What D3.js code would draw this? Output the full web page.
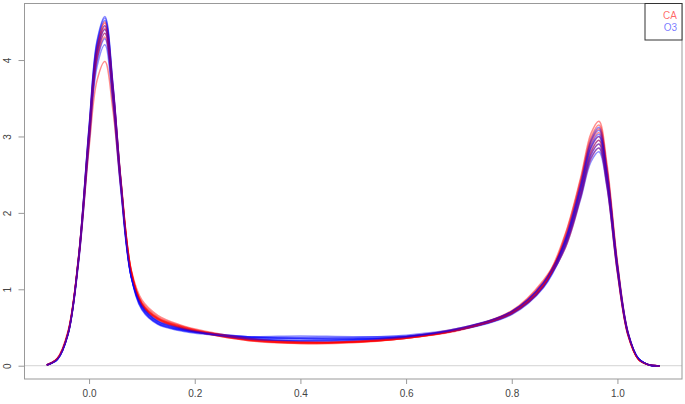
<!DOCTYPE html>
<html>
<head>
<meta charset="utf-8">
<script src="https://cdn.jsdelivr.net/npm/d3@7/dist/d3.min.js"></script>
<style>
  body { margin: 0; background: #fff; }
  svg { display: block; font-family: "Liberation Sans", Arial, sans-serif; }
</style>
</head>
<body>
<div id="chart"></div>
<script>
// shared x grid for every density curve
var xGrid = [-0.08,-0.06,-0.04,-0.02,0,0.015,0.03,0.045,0.06,0.08,0.10,0.13,0.17,0.22,0.3,0.4,0.5,0.6,0.7,0.8,0.86,0.9,0.93,0.95,0.965,0.98,1.0,1.02,1.04,1.06,1.08];

// CA densities (red)
var caCurves = [
  [0.01,0.09,0.43,1.42,3.08,4.18,4.50,3.67,2.46,1.24, 0.82,0.63,0.52,0.43,0.34,0.30,0.31,0.36,0.47,0.70,1.08, 1.70,2.45,3.04,3.20,2.65,1.36,0.44,0.09,0.01,0],
  [0.01,0.09,0.43,1.41,3.05,4.14,4.45,3.63,2.43,1.23, 0.80,0.62,0.51,0.42,0.33,0.29,0.31,0.37,0.48,0.71,1.09, 1.63,2.34,2.90,3.05,2.52,1.29,0.42,0.08,0.01,0],
  [0.01,0.09,0.42,1.39,3.02,4.09,4.40,3.59,2.41,1.21, 0.81,0.61,0.50,0.42,0.34,0.30,0.32,0.37,0.47,0.69,1.06, 1.57,2.26,2.80,2.95,2.44,1.25,0.40,0.08,0.01,0],
  [0.01,0.09,0.41,1.36,2.95,4.00,4.30,3.51,2.35,1.19, 0.83,0.64,0.53,0.44,0.35,0.31,0.31,0.36,0.46,0.69,1.05, 1.65,2.38,2.94,3.10,2.56,1.31,0.42,0.08,0.01,0],
  [0.01,0.09,0.43,1.42,3.07,4.16,4.48,3.65,2.45,1.23, 0.80,0.61,0.51,0.43,0.34,0.29,0.30,0.36,0.47,0.71,1.10, 1.55,2.22,2.76,2.90,2.40,1.23,0.40,0.08,0.01,0],
  [0.01,0.10,0.45,1.38,2.85,3.73,3.98,3.35,2.35,1.25, 0.86,0.66,0.54,0.45,0.36,0.31,0.31,0.36,0.47,0.72,1.12, 1.60,2.30,2.85,3.00,2.48,1.27,0.41,0.08,0.01,0],
  [0.01,0.09,0.42,1.38,2.98,4.04,4.35,3.55,2.38,1.20, 0.79,0.60,0.50,0.42,0.33,0.30,0.32,0.38,0.49,0.70,1.06, 1.52,2.19,2.71,2.85,2.36,1.21,0.39,0.08,0.01,0],
  [0.01,0.09,0.42,1.40,3.03,4.11,4.42,3.61,2.42,1.22, 0.81,0.62,0.52,0.44,0.35,0.31,0.31,0.36,0.47,0.68,1.04, 1.68,2.42,2.99,3.15,2.60,1.33,0.43,0.08,0.01,0]
];

// O3 densities (blue)
var o3Curves = [
  [0.01,0.08,0.40,1.40,3.13,4.25,4.57,3.70,2.44,1.16, 0.74,0.55,0.47,0.42,0.37,0.35,0.35,0.38,0.48,0.69,1.05, 1.58,2.27,2.80,2.95,2.45,1.28,0.42,0.09,0.01,0],
  [0.01,0.08,0.41,1.40,3.10,4.20,4.52,3.66,2.42,1.17, 0.76,0.56,0.48,0.43,0.38,0.36,0.35,0.38,0.47,0.68,1.04, 1.62,2.36,2.93,3.08,2.55,1.31,0.43,0.09,0.01,0],
  [0.01,0.09,0.42,1.38,2.98,4.04,4.35,3.54,2.36,1.17, 0.78,0.58,0.49,0.43,0.36,0.33,0.34,0.38,0.48,0.70,1.07, 1.52,2.17,2.67,2.80,2.34,1.22,0.41,0.09,0.01,0],
  [0.01,0.09,0.41,1.34,2.89,3.91,4.20,3.43,2.30,1.15, 0.77,0.57,0.48,0.43,0.38,0.37,0.37,0.40,0.49,0.69,1.04, 1.64,2.38,2.96,3.12,2.58,1.33,0.44,0.09,0.01,0],
  [0.01,0.08,0.41,1.39,3.05,4.14,4.45,3.61,2.40,1.16, 0.73,0.54,0.46,0.41,0.37,0.36,0.36,0.38,0.47,0.68,1.03, 1.56,2.23,2.76,2.90,2.41,1.26,0.42,0.09,0.01,0],
  [0.01,0.09,0.41,1.36,2.94,3.98,4.28,3.49,2.33,1.16, 0.79,0.59,0.50,0.43,0.36,0.32,0.33,0.37,0.48,0.71,1.08, 1.60,2.30,2.85,3.00,2.49,1.29,0.42,0.09,0.01,0],
  [0.01,0.08,0.41,1.41,3.12,4.23,4.55,3.69,2.43,1.16, 0.75,0.55,0.47,0.42,0.38,0.39,0.38,0.39,0.47,0.67,1.02, 1.54,2.20,2.72,2.85,2.37,1.24,0.41,0.09,0.01,0],
  [0.01,0.08,0.42,1.39,3.02,4.09,4.40,3.58,2.38,1.16, 0.78,0.58,0.49,0.42,0.35,0.33,0.34,0.38,0.49,0.71,1.09, 1.61,2.32,2.88,3.03,2.51,1.30,0.43,0.09,0.01,0]
];

var xTicks = [0, 0.2, 0.4, 0.6, 0.8, 1.0];
var yTicks = [0, 1, 2, 3, 4];
var legendLabels = ["CA", "O3"];
var legendColors = ["rgba(255,0,0,0.6)", "rgba(0,0,255,0.55)"];

var width = 685, height = 404;
var box = {left: 24.5, right: 682, top: 3.5, bottom: 379};

var svg = d3.select('#chart').append('svg')
    .attr('width', width)
    .attr('height', height);

var xScale = d3.scaleLinear()
    .domain([-0.1222, 1.1222])
    .range([box.left, box.right]);

var yScale = d3.scaleLinear()
    .domain([-0.174, 4.74])
    .range([box.bottom, box.top]);

// zero line
svg.append('line')
    .attr('x1', box.left).attr('x2', box.right)
    .attr('y1', yScale(0)).attr('y2', yScale(0))
    .attr('stroke', '#d3d3d3')
    .attr('stroke-width', 1);

var line = d3.line()
    .x(function(d, i){ return xScale(xGrid[i]); })
    .y(function(d){ return yScale(Math.max(0, d)); })
    .curve(d3.curveCatmullRom.alpha(0.5));

var plot = svg.append('g');

// interleave the two groups like the overplotted original
for (var i = 0; i < caCurves.length; i++) {
  plot.append('path')
      .attr('d', line(caCurves[i]))
      .attr('fill', 'none')
      .attr('stroke', 'rgba(255,0,0,0.45)')
      .attr('stroke-width', 1.5);
  plot.append('path')
      .attr('d', line(o3Curves[i]))
      .attr('fill', 'none')
      .attr('stroke', 'rgba(0,0,255,0.45)')
      .attr('stroke-width', 1.5);
}

// box
svg.append('rect')
    .attr('x', box.left).attr('y', box.top)
    .attr('width', box.right - box.left)
    .attr('height', box.bottom - box.top)
    .attr('fill', 'none')
    .attr('stroke', '#999')
    .attr('stroke-width', 1);

// x axis
var xAxis = d3.axisBottom(xScale)
    .tickValues(xTicks)
    .tickSize(5)
    .tickPadding(6)
    .tickFormat(d3.format('.1f'));

var gx = svg.append('g')
    .attr('transform', 'translate(0,' + box.bottom + ')')
    .call(xAxis);
gx.select('.domain').remove();
gx.selectAll('line').attr('stroke', '#999');
gx.selectAll('text').attr('fill', '#444').attr('font-size', 10)
    .attr('font-family', '"Liberation Sans", Arial, sans-serif');

// y axis
var yAxis = d3.axisLeft(yScale)
    .tickValues(yTicks)
    .tickSize(6)
    .tickFormat(d3.format('d'));

var gy = svg.append('g')
    .attr('transform', 'translate(' + box.left + ',0)')
    .call(yAxis);
gy.select('.domain').remove();
gy.selectAll('line').attr('stroke', '#999');
gy.selectAll('text').remove();
gy.selectAll('.tick').append('text')
    .attr('transform', 'translate(-17,0) rotate(-90)')
    .attr('text-anchor', 'middle')
    .attr('dy', '0.35em')
    .attr('fill', '#444')
    .attr('font-size', 10)
    .attr('font-family', '"Liberation Sans", Arial, sans-serif')
    .text(function(d){ return d; });

// legend
var legend = svg.append('g');
legend.append('rect')
    .attr('x', 645).attr('y', box.top)
    .attr('width', box.right - 645)
    .attr('height', 40 - box.top)
    .attr('fill', '#fff')
    .attr('stroke', '#333')
    .attr('stroke-width', 1);

legend.selectAll('text.lab')
    .data(legendLabels).enter()
    .append('text')
    .attr('class', 'lab')
    .attr('x', 677)
    .attr('y', function(d, i){ return 15 + i * 12; })
    .attr('dy', '0.35em')
    .attr('text-anchor', 'end')
    .attr('font-size', 10)
    .attr('fill', function(d, i){ return legendColors[i]; })
    .text(function(d){ return d; });
</script>
</body>
</html>
